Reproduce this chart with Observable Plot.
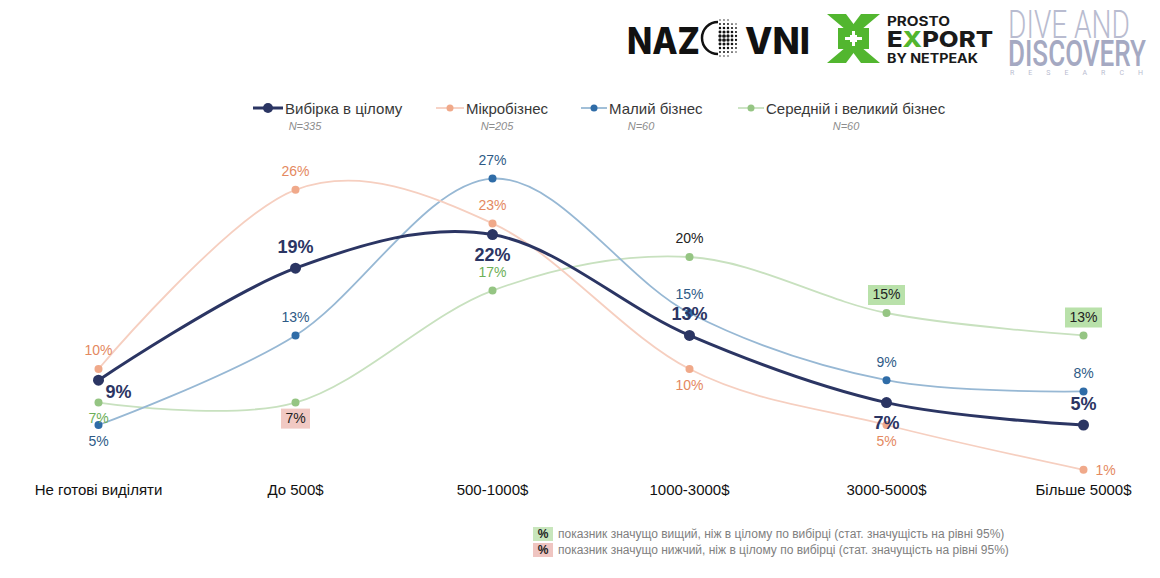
<!DOCTYPE html>
<html>
<head>
<meta charset="utf-8">
<script src="https://cdn.jsdelivr.net/npm/d3@7"></script>
<script src="https://cdn.jsdelivr.net/npm/@observablehq/plot@0.6"></script>
<style>
  body { margin: 0; background: #fff; font-family: Arial, "Liberation Sans", sans-serif; }
  #wrap { position: relative; width: 1160px; height: 578px; overflow: hidden; background: #fff; }
  #wrap > svg.plot { position: absolute; left: 0; top: 0; }
  .abs { position: absolute; }
  .leg { position: absolute; top: 98px; height: 20px; display: flex; align-items: center; font-size: 15px; color: #383838; white-space: nowrap; }
  .leg svg { margin-right: 2px; }
  .n { position: absolute; top: 120px; font-size: 11px; font-style: italic; color: #8c8c8c; transform: translateX(-50%); white-space: nowrap; }
  .note { position: absolute; left: 533px; font-size: 12px; color: #808080; white-space: nowrap; display: flex; align-items: center; }
  .note b { display: inline-block; width: 20px; height: 14px; line-height: 14px; text-align: center; color: #222; font-weight: bold; margin-right: 5px; font-size: 12px; }
</style>
</head>
<body>
<div id="wrap"></div>
<script>
// Budget categories (x axis)
const categories = ["Не готові виділяти", "До 500$", "500-1000$", "1000-3000$", "3000-5000$", "Більше 5000$"];

// Share of respondents, %
const overall  = [9, 19, 22, 13, 7, 5];
const micro    = [10, 26, 23, 10, 5, 1];
const small    = [5, 13, 27, 15, 9, 8];
const midLarge = [7, 7, 17, 20, 15, 13];

// Significance vs. the whole sample for medium & large business
const midLargeSignif = [null, "lower", null, null, "higher", "higher"];

const seriesNames = ["Вибірка в цілому", "Мікробізнес", "Малий бізнес", "Середній і великий бізнес"];
const sampleSizes = [335, 205, 60, 60];

// ---- presentation ----
const seriesKeys = ["overall", "micro", "small", "mid"];
const seriesValues = [overall, micro, small, midLarge];

// where each value label sits relative to its point
const placements = {
  overall: ["belowRight", "above", "below", "above", "below", "above"],
  micro:   ["above", "above", "above", "below", "below", "right"],
  small:   ["below", "above", "above", "above", "above", "above"],
  mid:     ["below", "below", "above", "above", "above", "above"]
};

const styles = {
  overall: {line: "#2B3563", dot: "#2B3563", label: "#2B3563", width: 3,   r: 5.5, font: 18, weight: "bold",   above: -21, below: 21},
  micro:   {line: "#F6CFC0", dot: "#F0A98A", label: "#E4895F", width: 1.8, r: 4,   font: 14, weight: "normal", above: -18, below: 17},
  small:   {line: "#97B8D4", dot: "#2F6CA7", label: "#2E5A86", width: 1.8, r: 4,   font: 14, weight: "normal", above: -18, below: 17},
  mid:     {line: "#C8E1BF", dot: "#95C583", label: "#6DAF58", width: 1.8, r: 4,   font: 14, weight: "normal", above: -18, below: 16}
};
const darkLabel = "#222";

const rows = seriesValues.flatMap((vals, s) => vals.map((v, i) => ({
  series: seriesKeys[s],
  cat: categories[i],
  value: v,
  signif: s === 3 ? midLargeSignif[i] : null,
  place: placements[seriesKeys[s]][i]
})));

function offsetFor(st, place) {
  if (place === "above") return [0, st.above];
  if (place === "below") return [0, st.below];
  if (place === "right") return [22, 1];
  return [20, 12]; // belowRight
}

// value labels that sit on a coloured box are dark; 20% is also dark
function labelColor(d, st) {
  if (d.signif) return darkLabel;
  if (d.series === "mid" && d.value === 20) return darkLabel;
  return st.label;
}

// rectangular symbol for the significance boxes
const boxSymbol = (w, h) => ({draw(ctx) { ctx.rect(-w / 2, -h / 2, w, h); }});

const marks = [
  Plot.axisX({tickSize: 0, tickPadding: 3, fontSize: 15, color: "#111", label: null})
];

// lines first (bottom to top: mid, small, micro, overall)
const drawOrder = ["mid", "small", "micro", "overall"];
for (const k of drawOrder) {
  const st = styles[k];
  marks.push(Plot.line(rows.filter(d => d.series === k), {
    x: "cat", y: "value", stroke: st.line, strokeWidth: st.width,
    curve: "cardinal", tension: 0
  }));
}

// significance boxes behind their labels
for (const [sig, fill, w] of [["higher", "#B9E1AA", 37], ["lower", "#F1C9C3", 29]]) {
  for (const place of ["above", "below"]) {
    const sub = rows.filter(d => d.signif === sig && d.place === place);
    if (!sub.length) continue;
    const [, dy] = offsetFor(styles.mid, place);
    marks.push(Plot.dot(sub, {x: "cat", y: "value", dy, symbol: boxSymbol(w, 20), r: 10, fill, stroke: "none"}));
  }
}

for (const k of drawOrder) {
  const st = styles[k];
  marks.push(Plot.dot(rows.filter(d => d.series === k), {x: "cat", y: "value", r: st.r, fill: st.dot, stroke: "none"}));
}

for (const k of drawOrder) {
  const st = styles[k];
  for (const place of ["above", "below", "right", "belowRight"]) {
    const sub = rows.filter(d => d.series === k && d.place === place);
    if (!sub.length) continue;
    const [dx, dy] = offsetFor(st, place);
    marks.push(Plot.text(sub, {
      x: "cat", y: "value", text: d => `${d.value}%`, dx, dy,
      fill: d => labelColor(d, st), fontSize: st.font, fontWeight: st.weight
    }));
  }
}

const chart = Plot.plot({
  width: 1160,
  height: 578,
  marginLeft: 96,
  marginRight: 75,
  marginTop: 144.5,
  marginBottom: 97.5,
  x: {type: "point", domain: categories, padding: 0, label: null},
  y: {domain: [0, 30], axis: null},
  color: {type: "identity"},
  style: {fontFamily: "Arial, 'Liberation Sans', sans-serif", background: "transparent"},
  marks
});
chart.classList.add("plot");
const wrap = document.getElementById("wrap");
wrap.appendChild(chart);

// ---- legend ----
const legendPos = [
  {left: 253, lineW: 30, text: 285, n: 305},
  {left: 436, lineW: 28, text: 466, n: 497},
  {left: 581, lineW: 26, text: 609, n: 641},
  {left: 738, lineW: 26, text: 767, n: 846}
];
seriesNames.forEach((name, i) => {
  const st = styles[seriesKeys[i]];
  const p = legendPos[i];
  const item = document.createElement("div");
  item.className = "leg";
  item.style.left = p.left + "px";
  const w = p.lineW;
  item.innerHTML = `<svg width="${w}" height="14"><line x1="0" x2="${w}" y1="7" y2="7" stroke="${st.line}" stroke-width="${st.width}"/><circle cx="${w / 2}" cy="7" r="${st.r - 0.5}" fill="${st.dot}"/></svg><span>${name}</span>`;
  wrap.appendChild(item);
  const n = document.createElement("div");
  n.className = "n";
  n.style.left = p.n + "px";
  n.textContent = `N=${sampleSizes[i]}`;
  wrap.appendChild(n);
});

// ---- footnote ----
const notes = [
  ["#C8E6BC", "показник значущо вищий, ніж в цілому по вибірці (стат. значущість на рівні 95%)", 527],
  ["#EFC5C1", "показник значущо нижчий, ніж в цілому по вибірці (стат. значущість на рівні 95%)", 543]
];
for (const [bg, txt, top] of notes) {
  const el = document.createElement("div");
  el.className = "note";
  el.style.top = top + "px";
  el.innerHTML = `<b style="background:${bg}">%</b><span>${txt}</span>`;
  wrap.appendChild(el);
}

// ---- logos ----
const logos = document.createElement("div");
logos.className = "abs";
logos.style.left = "0px";
logos.style.top = "0px";
// dotted "O" for the first wordmark
let dots = "";
for (let gx = -14; gx <= 16; gx += 4) {
  for (let gy = -18; gy <= 18; gy += 4) {
    const rr = Math.hypot(gx - 2, gy);
    if (rr > 19 || gx < -2) continue;
    const s = 2.0 - rr / 14;
    if (s > 0.4) dots += `<circle cx="${722 + gx}" cy="${38 + gy}" r="${s.toFixed(2)}" fill="#111"/>`;
  }
}
logos.innerHTML = `
<svg width="1160" height="90" style="position:absolute;left:0;top:0">
  <text x="627" y="54" font-family="Inter, 'DejaVu Sans', sans-serif" font-weight="800" font-size="37" fill="#111" textLength="73" lengthAdjust="spacingAndGlyphs">NAZ</text>
  <path d="M718 22 A16 16 0 0 0 718 54" fill="none" stroke="#111" stroke-width="2.5"/>
  ${dots}
  <text x="745" y="54" font-family="Inter, 'DejaVu Sans', sans-serif" font-weight="800" font-size="37" fill="#111" textLength="65" lengthAdjust="spacingAndGlyphs">VNI</text>

  <g fill="#52B62F">
    <polygon points="827,14 846,14 858,30 846,30"/>
    <polygon points="880,14 861,14 849,30 861,30"/>
    <polygon points="827,63 846,63 858,47 846,47"/>
    <polygon points="880,63 861,63 849,47 861,47"/>
    <rect x="838" y="28" width="31" height="21"/>
  </g>
  <g fill="#fff">
    <rect x="850" y="35" width="7" height="7"/>
    <rect x="845" y="37" width="17" height="3"/>
    <rect x="852" y="31" width="3" height="15"/>
  </g>
  <text x="887" y="26" font-family="Inter, 'DejaVu Sans', sans-serif" font-weight="700" font-size="13" fill="#1a1a1a" textLength="63" lengthAdjust="spacingAndGlyphs">PROSTO</text>
  <text x="887" y="47" font-family="Inter, 'DejaVu Sans', sans-serif" font-weight="800" font-size="22" fill="#1a1a1a" textLength="106" lengthAdjust="spacingAndGlyphs">E<tspan fill="#52B62F">X</tspan>PORT</text>
  <text x="887" y="63" font-family="Inter, 'DejaVu Sans', sans-serif" font-weight="700" font-size="13" fill="#1a1a1a" textLength="91" lengthAdjust="spacingAndGlyphs">BY NETPEAK</text>

  <text x="1008" y="38" font-family="Roboto, sans-serif" font-weight="300" font-size="39" fill="#B9BCD0" textLength="122" lengthAdjust="spacingAndGlyphs">DIVE AND</text>
  <text x="1008" y="66" font-family="Roboto, sans-serif" font-weight="500" font-size="37" fill="#A5A9C2" textLength="138" lengthAdjust="spacingAndGlyphs">DISCOVERY</text>
  <text x="1010" y="75" font-family="Roboto, sans-serif" font-size="7" fill="#B9BCD0" textLength="133" lengthAdjust="spacing">RESEARCH</text>
</svg>`;
wrap.appendChild(logos);
</script>
</body>
</html>
